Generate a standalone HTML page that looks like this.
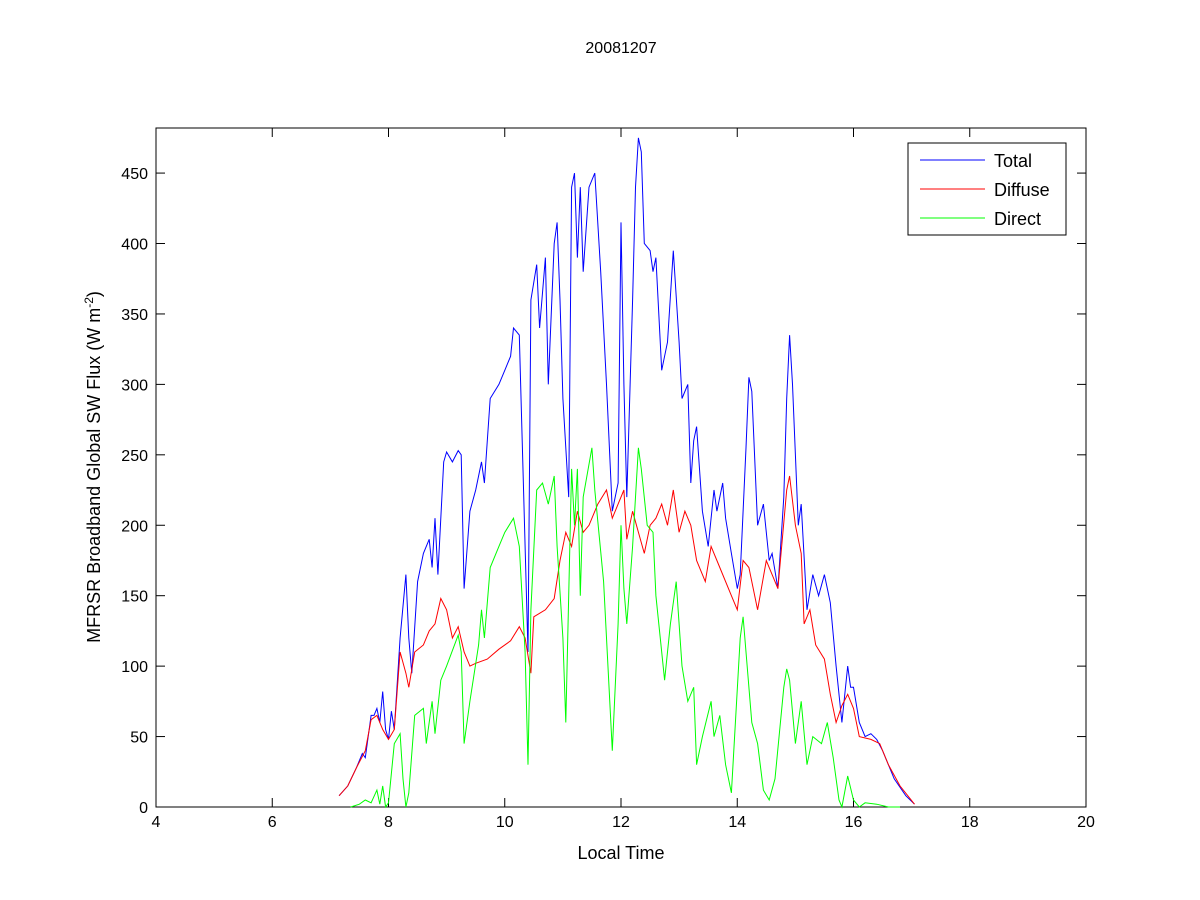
<!DOCTYPE html>
<html><head><meta charset="utf-8"><style>
body{margin:0;background:#fff;}
svg{display:block;font-family:"Liberation Sans",Arial,sans-serif;}
</style></head><body>
<svg id="chart" width="1200" height="900" viewBox="0 0 1200 900" xmlns="http://www.w3.org/2000/svg">
<rect width="1200" height="900" fill="#fff"/>
<g id="plot"></g>
</svg>
<script>
const xTicks=[4,6,8,10,12,14,16,18,20];
const yTicks=[0,50,100,150,200,250,300,350,400,450];
const totalT=[7.15,7.3,7.45,7.55,7.6,7.7,7.75,7.8,7.85,7.9,7.95,8.0,8.05,8.1,8.2,8.3,8.35,8.4,8.5,8.6,8.7,8.75,8.8,8.85,8.95,9.0,9.1,9.2,9.25,9.3,9.4,9.5,9.6,9.65,9.75,9.9,10.0,10.1,10.15,10.25,10.3,10.4,10.45,10.55,10.6,10.7,10.75,10.85,10.9,10.95,11.0,11.1,11.15,11.2,11.25,11.3,11.35,11.45,11.55,11.65,11.75,11.85,11.95,12.0,12.05,12.1,12.2,12.25,12.3,12.35,12.4,12.5,12.55,12.6,12.7,12.8,12.9,13.0,13.05,13.15,13.2,13.25,13.3,13.4,13.5,13.6,13.65,13.75,13.8,13.9,14.0,14.05,14.15,14.2,14.25,14.35,14.45,14.55,14.6,14.7,14.8,14.85,14.9,14.95,15.05,15.1,15.2,15.3,15.4,15.5,15.6,15.7,15.8,15.9,15.95,16.0,16.1,16.2,16.3,16.4,16.5,16.7,16.9,17.05];
const totalV=[8,15,28,38,35,65,65,70,60,82,55,48,68,55,120,165,120,95,160,180,190,170,205,165,245,252,245,253,250,155,210,225,245,230,290,300,310,320,340,335,260,110,360,385,340,390,300,400,415,360,290,220,440,450,390,440,380,440,450,380,300,210,230,415,300,220,360,440,475,465,400,395,380,390,310,330,395,330,290,300,230,260,270,210,185,225,210,230,205,180,155,165,255,305,295,200,215,175,180,155,220,290,335,300,200,215,140,165,150,165,145,100,60,100,85,85,60,50,52,48,40,20,8,2];
const diffT=[7.15,7.3,7.45,7.6,7.7,7.8,7.9,8.0,8.1,8.2,8.3,8.35,8.45,8.6,8.7,8.8,8.9,9.0,9.1,9.2,9.3,9.4,9.5,9.7,9.9,10.1,10.25,10.35,10.45,10.5,10.7,10.85,10.95,11.05,11.15,11.25,11.35,11.45,11.6,11.75,11.85,11.95,12.05,12.1,12.2,12.3,12.4,12.5,12.6,12.7,12.8,12.9,13.0,13.1,13.2,13.3,13.45,13.55,13.7,13.9,14.0,14.1,14.2,14.35,14.5,14.6,14.7,14.85,14.9,15.0,15.1,15.15,15.25,15.35,15.5,15.6,15.7,15.8,15.9,16.0,16.1,16.3,16.45,16.6,16.8,17.05];
const diffV=[8,15,28,40,62,65,55,48,55,110,95,85,110,115,125,130,148,140,120,128,110,100,102,105,112,118,128,120,95,135,140,148,175,195,185,210,195,200,215,225,205,215,225,190,210,195,180,200,205,215,200,225,195,210,200,175,160,185,170,150,140,175,170,140,175,165,155,225,235,200,180,130,140,115,105,80,60,72,80,70,50,48,45,30,15,2];
const dirT=[7.35,7.5,7.6,7.7,7.8,7.85,7.9,7.95,8.0,8.1,8.2,8.25,8.3,8.35,8.45,8.6,8.65,8.75,8.8,8.9,9.0,9.2,9.25,9.3,9.4,9.55,9.6,9.65,9.75,9.9,10.0,10.15,10.25,10.35,10.4,10.45,10.55,10.65,10.75,10.85,10.9,11.0,11.05,11.15,11.2,11.25,11.3,11.35,11.5,11.55,11.7,11.8,11.85,11.95,12.0,12.05,12.1,12.2,12.3,12.35,12.45,12.55,12.6,12.75,12.85,12.95,13.05,13.15,13.25,13.3,13.4,13.55,13.6,13.7,13.8,13.9,14.05,14.1,14.15,14.25,14.35,14.45,14.55,14.65,14.8,14.85,14.9,15.0,15.1,15.2,15.3,15.45,15.55,15.65,15.75,15.8,15.9,16.0,16.1,16.2,16.4,16.6,16.8];
const dirV=[0,2,5,3,12,2,15,0,3,45,52,20,0,10,65,70,45,75,52,90,100,122,110,45,75,115,140,120,170,185,195,205,185,110,30,140,225,230,215,235,185,120,60,240,200,240,150,220,255,225,160,80,40,130,200,155,130,185,255,240,200,195,150,90,130,160,100,75,85,30,50,75,50,65,30,10,120,135,110,60,45,12,5,20,85,98,90,45,75,30,50,45,60,35,5,0,22,5,0,3,2,0,0];

const L=156,R=1086,T=128,B=807,XMIN=4,XMAX=20,YMIN=0,YMAX=482;
const xs=v=>L+(v-XMIN)/(XMAX-XMIN)*(R-L);
const ys=v=>B-(v-YMIN)/(YMAX-YMIN)*(B-T);
const NS='http://www.w3.org/2000/svg';
const g=document.getElementById('plot');
function mk(tag,attrs,parent){const e=document.createElementNS(NS,tag);for(const k in attrs)e.setAttribute(k,attrs[k]);(parent||g).appendChild(e);return e;}

const box=mk('rect',{x:L,y:T,width:R-L,height:B-T,fill:'#fff',stroke:'#000','stroke-width':1});



xTicks.forEach(v=>{const x=xs(v);
 const t1=mk('line',{x1:x,y1:B,x2:x,y2:B-9,stroke:'#000'});
 
 
 const t2=mk('line',{x1:x,y1:T,x2:x,y2:T+9,stroke:'#000'});
 
 
 const tx=mk('text',{x:x,y:B+20,'text-anchor':'middle','font-size':16});
 tx.textContent=v;
 
 
});
yTicks.forEach(v=>{const y=ys(v);
 const t1=mk('line',{x1:L,y1:y,x2:L+9,y2:y,stroke:'#000'});
 
 
 const t2=mk('line',{x1:R,y1:y,x2:R-9,y2:y,stroke:'#000'});
 
 
 const tx=mk('text',{x:L-8,y:y+6,'text-anchor':'end','font-size':16});
 tx.textContent=v;
 
 
});

function series(T_,V_,color,name){
 const d=T_.map((t,i)=>(i?'L':'M')+xs(t).toFixed(1)+' '+ys(V_[i]).toFixed(1)).join(' ');
 const p=mk('path',{d:d,fill:'none',stroke:color,'stroke-width':1});
 
 
}
series(totalT,totalV,'#0000ff','total-line');
series(diffT,diffV,'#ff0000','diffuse-line');
series(dirT,dirV,'#00ff00','direct-line');

const title=mk('text',{x:621,y:53,'text-anchor':'middle','font-size':16});
title.textContent='20081207';


const xl=mk('text',{x:621,y:859,'text-anchor':'middle','font-size':18});
xl.textContent='Local Time';


const yl=mk('text',{x:0,y:0,'text-anchor':'middle','font-size':18,transform:'translate(100,467) rotate(-90)'});
yl.innerHTML='MFRSR Broadband Global SW Flux (W m<tspan dy="-7" font-size="12">-2</tspan><tspan dy="7">)</tspan>';



const lg=mk('g',{});


mk('rect',{x:908,y:143,width:158,height:92,fill:'#fff',stroke:'#000'},lg);
[['Total','#0000ff'],['Diffuse','#ff0000'],['Direct','#00ff00']].forEach((e,i)=>{
 const y=160+i*29;
 const ln=mk('line',{x1:920,y1:y,x2:985,y2:y,stroke:e[1]},lg);
 
 
 const t=mk('text',{x:994,y:y+7,'font-size':18},lg);
 t.textContent=e[0];
 
 
});
</script>
</body></html>
